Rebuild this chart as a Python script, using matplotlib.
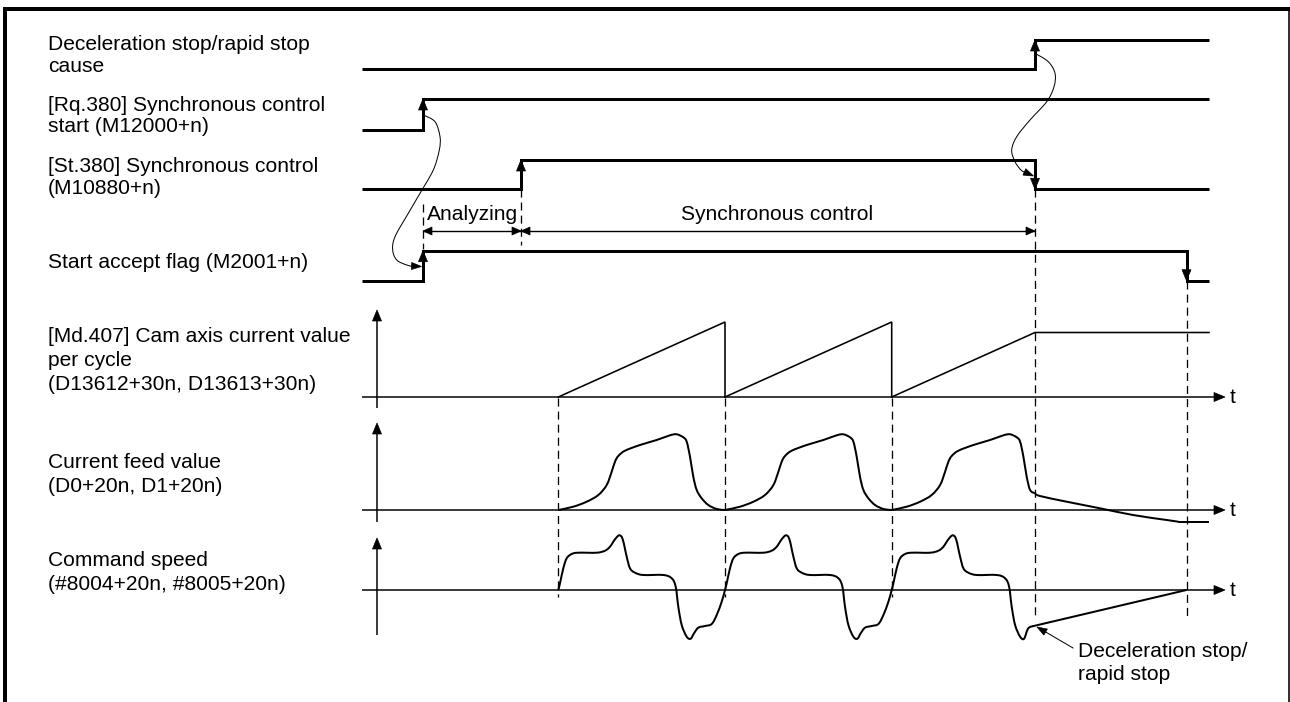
import numpy as np
import matplotlib
matplotlib.use("Agg")
import matplotlib.pyplot as plt
from matplotlib.path import Path
from matplotlib.patches import PathPatch, Polygon

# ------------------------------------------------------------------ data
# time axis (diagram time units)
T_LEFT, T_RIGHT = 362, 1209
T_RQ_ON = 423          # [Rq.380] ON / start accept flag ON
T_SYNC_ON = 521        # [St.380] ON (end of analyzing)
T_STOP = 1035          # deceleration stop / rapid stop cause
T_ACCEPT_OFF = 1186.5  # start accept flag OFF (stop complete)
CAM_CYCLE_STARTS = [558.3, 725.0, 891.7]
CAM_PERIOD = 166.7

# digital signals: change times and levels (0 = OFF, 1 = ON)
decel_times = [T_LEFT, T_STOP, T_RIGHT]
decel_levels = [0, 1, 1]
rq_times = [T_LEFT, T_RQ_ON, T_RIGHT]
rq_levels = [0, 1, 1]
st_times = [T_LEFT, T_SYNC_ON, T_STOP, T_RIGHT]
st_levels = [0, 1, 0, 0]
acc_times = [T_LEFT, T_RQ_ON, T_ACCEPT_OFF, T_RIGHT]
acc_levels = [0, 1, 0, 0]

# cam axis current value per cycle (sawtooth height at end of cycle / at stop)
cam_peak = 75.0
cam_stop_value = 64.5

# current feed value, one cam cycle: phase (time from cycle start) / value
feed_phase = [0, 15, 28.4, 40, 48.4, 53.4, 56.7, 60, 66.7, 81.7, 98.4, 111.7,
              118.4, 125, 128.4, 131.7, 135, 138.4, 143.4, 150, 158.4, 166.7]
feed_value = [0, 3.3, 8.3, 15, 25, 38.3, 48.3, 54, 59.3, 65, 70, 74.7,
              75.7, 72.7, 68.3, 53.3, 33.3, 20, 11.7, 5, 1, 0]
# current feed value after the stop
feed_stop_times = [1035, 1040, 1066.7, 1100, 1133, 1166.7, 1178.3]
feed_stop_value = [16.7, 14, 8.3, 1.7, -5, -10, -11.7]

# command speed, one cam cycle
cmd_phase = [0, 1.7, 5, 8.4, 13.4, 20, 38.4, 46.7, 51.7, 56.7, 61, 64.4, 68.4,
             71.7, 76.7, 85, 105, 113.4, 117.4, 120, 123.4, 128.4, 132.4,
             135.7, 140, 146.7, 153.4, 158.4, 163.4, 166.7]
cmd_value = [0, 6.7, 21.7, 31.7, 36, 37.3, 37.3, 39.3, 43.3, 50.7, 54.7, 50.7,
             33.3, 21.7, 17.3, 15, 15, 11.7, 3.3, -16.7, -35, -46.7, -48.7,
             -43.3, -37.7, -36, -34, -25, -11.7, 0]
# command speed around the stop
cmd_stop_times = [1028.3, 1035]
cmd_stop_value = [-38.3, -35.7]

# ------------------------------------------------------------------ layout
plt.rcParams["font.family"] = ["Liberation Sans", "DejaVu Sans"]
plt.rcParams["lines.scale_dashes"] = False
FS = 15.1
PX = 0.72  # points per pixel

fig = plt.figure(figsize=(12.9, 7.02), dpi=100)
ax = fig.add_axes([0, 0, 1, 1])
ax.set_xlim(0, 1290)
ax.set_ylim(702, 0)
ax.axis("off")


def smooth_path(xs, ys):
    P = np.column_stack([xs, ys]).astype(float)
    n = len(P)
    verts = [P[0]]
    codes = [Path.MOVETO]
    for i in range(n - 1):
        p0 = P[i - 1] if i > 0 else P[i]
        p1 = P[i]
        p2 = P[i + 1]
        p3 = P[i + 2] if i + 2 < n else P[i + 1]
        verts += [p1 + (p2 - p0) / 6.0, p2 - (p3 - p1) / 6.0, p2]
        codes += [Path.CURVE4] * 3
    return Path(verts, codes)


def draw_smooth(xs, ys, lw):
    ax.add_patch(PathPatch(smooth_path(xs, ys), fill=False, ec="black",
                           lw=lw, capstyle="butt", joinstyle="round"))


def head(tip, direction, length=11, width=9):
    d = np.array(direction, float)
    d /= np.hypot(*d)
    nrm = np.array([-d[1], d[0]])
    tip = np.array(tip, float)
    base = tip - d * length
    ax.add_patch(Polygon([tip, base + nrm * width / 2, base - nrm * width / 2],
                         closed=True, fc="black", ec="black", lw=0.5))


def hline(y, x0, x1, lw, **kw):
    ax.plot([x0, x1], [y, y], color="black", lw=lw, solid_capstyle="butt", **kw)


def vline(x, y0, y1, lw, **kw):
    ax.plot([x, x], [y0, y1], color="black", lw=lw, solid_capstyle="butt", **kw)


def dashed(x, y0, y1):
    ax.plot([x, x], [y0, y1], color="black", lw=1.3 * PX, dashes=(5.8, 3.6))


# ------------------------------------------------------------------ frame
hline(9, 3, 1290, 4 * PX)
vline(5, 7, 702, 4 * PX)
vline(1289, 7, 702, 1.6 * PX)

# ------------------------------------------------------------------ labels
labels = [
    (50, "Deceleration stop/rapid stop"), (71.5, "cause"),
    (110.7, "[Rq.380] Synchronous control"), (132, "start (M12000+n)"),
    (171.7, "[St.380] Synchronous control"), (194.3, "(M10880+n)"),
    (268.3, "Start accept flag (M2001+n)"),
    (342.3, "[Md.407] Cam axis current value"), (365.5, "per cycle"),
    (390, "(D13612+30n, D13613+30n)"),
    (468.3, "Current feed value"), (492.3, "(D0+20n, D1+20n)"),
    (566, "Command speed"), (590, "(#8004+20n, #8005+20n)"),
]
for yb, txt in labels:
    ax.text(48, yb, txt, fontsize=FS, ha="left", va="baseline", color="black")

# ------------------------------------------------------------------ digital signals
rows = [  # (times, levels, low y, amplitude)
    (decel_times, decel_levels, 69, 29),
    (rq_times, rq_levels, 130, 31),
    (st_times, st_levels, 189.3, 29.3),
    (acc_times, acc_levels, 280.7, 30),
]
for times, levels, base, amp in rows:
    ys = [base - lv * amp for lv in levels]
    ax.step(times, ys, where="post", color="black", lw=3 * PX,
            solid_joinstyle="miter", solid_capstyle="butt")
    for i in range(1, len(times) - 1):
        if levels[i] != levels[i - 1]:
            up = levels[i] > levels[i - 1]
            tip_y = base - levels[i] * amp
            head((times[i], tip_y), (0, -1) if up else (0, 1), length=11, width=9)

# dimension: Analyzing / Synchronous control
dashed(T_RQ_ON, 204, 249)
dashed(T_SYNC_ON, 189.3, 245)
dim_y = 231
hline(dim_y, T_RQ_ON, T_SYNC_ON, 1.4 * PX)
hline(dim_y, T_SYNC_ON, T_STOP, 1.4 * PX)
head((T_RQ_ON, dim_y), (-1, 0), 9, 8)
head((T_SYNC_ON, dim_y), (1, 0), 9, 8)
head((T_SYNC_ON, dim_y), (-1, 0), 9, 8)
head((T_STOP, dim_y), (1, 0), 9, 8)
ax.text((T_RQ_ON + T_SYNC_ON) / 2 + 1, 220, "Analyzing", fontsize=FS,
        ha="center", va="baseline")
ax.text(777, 220, "Synchronous control", fontsize=FS, ha="center", va="baseline")

# causal curved arrows
c1x = [423.3, 435, 440, 439.3, 433.3, 420, 408.3, 395, 392.7, 396.7, 406.7, 413]
c1y = [115, 121.7, 136.7, 150, 170, 193.3, 213.3, 236.7, 250, 260, 265, 266.5]
draw_smooth(c1x, c1y, 1.0 * PX)
head((421.5, 266.5), (1, 0.05), 10, 7)
c2x = [1035, 1048.3, 1055, 1054, 1046.7, 1030, 1016.7, 1011.7, 1015, 1021, 1026]
c2y = [53.3, 61.7, 73.3, 86.7, 101.7, 120, 136.7, 150, 161.7, 170, 173]
draw_smooth(c2x, c2y, 1.0 * PX)
head((1033.5, 176), (1, 0.45), 10, 7)

# long dashed lines
dashed(T_STOP, 189.3, 618)
dashed(T_ACCEPT_OFF, 281, 618)
for cs in CAM_CYCLE_STARTS:
    dashed(cs, 398, 597)

# ------------------------------------------------------------------ analog axes
AX_X = 377
axes_rows = [(397, 310, 408), (510, 423, 522), (590, 538, 635)]
for y0, ytop, ybot in axes_rows:
    hline(y0, T_LEFT, 1216, 1.5 * PX)
    head((1225, y0), (1, 0), 11, 9)
    vline(AX_X, ybot, ytop + 9, 1.5 * PX)
    head((AX_X, ytop), (0, -1), 11, 9)
    ax.text(1230, y0 + 0.5, "t", fontsize=FS, ha="left", va="center")

# cam axis current value per cycle (sawtooth)
CAM_Y0 = 397
for i, cs in enumerate(CAM_CYCLE_STARTS):
    if i < len(CAM_CYCLE_STARTS) - 1:
        ce = cs + CAM_PERIOD
        ax.plot([cs, ce, ce], [CAM_Y0, CAM_Y0 - cam_peak, CAM_Y0],
                color="black", lw=1.6 * PX, solid_joinstyle="miter")
    else:
        ax.plot([cs, T_STOP, T_RIGHT],
                [CAM_Y0, CAM_Y0 - cam_stop_value, CAM_Y0 - cam_stop_value],
                color="black", lw=1.6 * PX, solid_joinstyle="miter")

# current feed value
FEED_Y0 = 510
fp = np.array(feed_phase)
fv = np.array(feed_value)
for i, cs in enumerate(CAM_CYCLE_STARTS):
    if i < len(CAM_CYCLE_STARTS) - 1:
        draw_smooth(cs + fp, FEED_Y0 - fv, 2 * PX)
    else:
        m = fp <= 138.5
        xs = list(cs + fp[m]) + [feed_stop_times[0]]
        ys = list(FEED_Y0 - fv[m]) + [FEED_Y0 - feed_stop_value[0]]
        draw_smooth(xs, ys, 2 * PX)
fsx = feed_stop_times
fsy = [FEED_Y0 - v for v in feed_stop_value]
draw_smooth(fsx, fsy, 2 * PX)
hline(fsy[-1], fsx[-1], T_RIGHT, 2 * PX)

# command speed
CMD_Y0 = 590
cp = np.array(cmd_phase)
cv = np.array(cmd_value)
xs_all, ys_all = [], []
for i, cs in enumerate(CAM_CYCLE_STARTS):
    if i < len(CAM_CYCLE_STARTS) - 1:
        px_, pv_ = cs + cp, cv
    else:
        m = cp <= 132.5
        px_ = np.concatenate([cs + cp[m], cmd_stop_times])
        pv_ = np.concatenate([cv[m], cmd_stop_value])
    if i > 0:
        px_, pv_ = px_[1:], pv_[1:]
    xs_all += list(px_)
    ys_all += list(CMD_Y0 - pv_)
draw_smooth(xs_all, ys_all, 2 * PX)
ax.plot([cmd_stop_times[-1], T_ACCEPT_OFF], [CMD_Y0 - cmd_stop_value[-1], CMD_Y0],
        color="black", lw=2 * PX, solid_capstyle="butt")

# annotation
ax.plot([1073, 1044], [648, 631], color="black", lw=1.0 * PX)
head((1037, 627), (-29, -17), 10, 7)
ax.text(1078, 657, "Deceleration stop/", fontsize=FS, ha="left", va="baseline")
ax.text(1078, 680.5, "rapid stop", fontsize=FS, ha="left", va="baseline")

fig.savefig("out.png", dpi=100)
